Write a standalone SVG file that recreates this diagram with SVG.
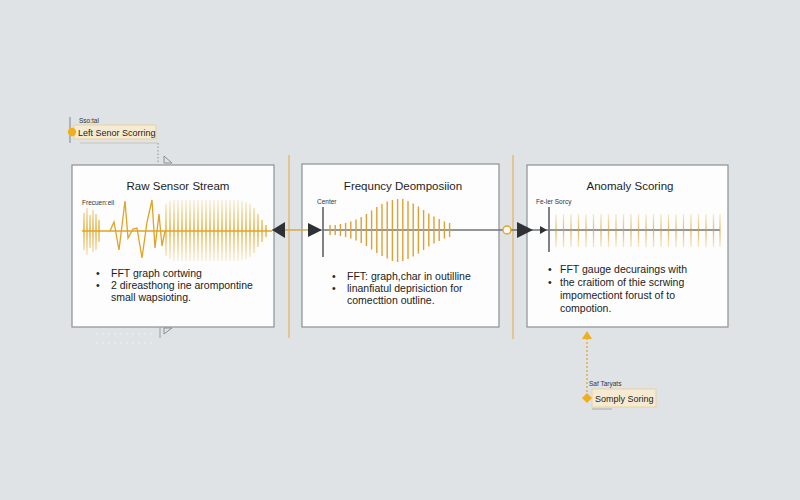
<svg xmlns="http://www.w3.org/2000/svg" width="800" height="500" viewBox="0 0 800 500">
<defs>
<linearGradient id="g1" gradientUnits="userSpaceOnUse" x1="0" y1="198" x2="0" y2="262">
<stop offset="0" stop-color="#e6a925" stop-opacity="0.15"/>
<stop offset="0.5" stop-color="#e2a21c" stop-opacity="1"/>
<stop offset="1" stop-color="#e6a925" stop-opacity="0.15"/>
</linearGradient>
<linearGradient id="g3" gradientUnits="userSpaceOnUse" x1="0" y1="212" x2="0" y2="250">
<stop offset="0" stop-color="#e8b040" stop-opacity="0.2"/>
<stop offset="0.5" stop-color="#d9a130" stop-opacity="0.75"/>
<stop offset="1" stop-color="#e8b040" stop-opacity="0.2"/>
</linearGradient>
<style>
.panel{fill:#fdfdfd;stroke:#8c9194;stroke-width:1.2}
.title{font-family:"Liberation Sans",Arial,sans-serif;font-size:11.5px;fill:#1e1e1e;text-anchor:middle}
.body{font-family:"Liberation Sans",Arial,sans-serif;font-size:10.5px;fill:#222}
.tiny{font-family:"Liberation Sans",Arial,sans-serif;font-size:6.5px;fill:#333}
.vline{stroke:#e2b769;stroke-width:1.3}
.axis{stroke:#6f7478;stroke-width:1.6}
.arrow{fill:#2e3235}
.callout{fill:#f6ebd2;stroke:#e6d3a3;stroke-width:1}
.ctext{font-family:"Liberation Sans",Arial,sans-serif;font-size:9px;fill:#222}
</style>
</defs>
<rect width="800" height="500" fill="#dfe3e5"/>

<!-- separators -->
<line class="vline" x1="289" y1="155" x2="289" y2="338"/>
<line class="vline" x1="513" y1="155" x2="513" y2="339"/>

<g id="panel-raw">
<rect class="panel" x="72" y="165" width="202" height="162"/>
<text class="title" x="178" y="190">Raw Sensor Stream</text>
<text class="tiny" x="82" y="205">Frecuen:eil</text>
<line x1="82" y1="231" x2="272" y2="231" stroke="#e0a326" stroke-width="1.4"/>
<path fill="none" stroke="url(#g1)" stroke-width="1.3" d="M84 213V250M87 208V255M90 215V248M93 210V252M96 214V250M99 220V242"/>
<polyline fill="none" stroke="#e0a326" stroke-width="1.3" points="110,231 114,222 119,250 125,201 128,238 133,229 137,228 142,258 147,222 152,200 155,248 159,214 162,246 165,231"/>
<path fill="none" stroke="url(#g1)" stroke-width="1.3" d="M166 204V256M170 201V259M174 200V261M178 200V261M182 200V261M186 200V261M190 200V261M194 200V261M198 200V261M202 200V261M206 200V261M210 200V261M214 200V261M218 200V261M222 200V261M226 200V261M230 200V261M234 200V261M238 200V261M242 201V260M246 202V259M250 204V257M254 208V253M258 214V247M262 220V242M266 225V237"/>
<text class="body" x="96" y="277">•</text>
<text class="body" x="111" y="277">FFT graph cortwing</text>
<text class="body" x="96" y="289">•</text>
<text class="body" x="111" y="289">2 direasthong ine arompontine</text>
<text class="body" x="111" y="301">small wapsioting.</text>
</g>

<g id="panel-freq">
<rect class="panel" x="302" y="164" width="197" height="163"/>
<text class="title" x="403" y="190">Frequncy Deomposiion</text>
<text class="tiny" x="317" y="204">Center</text>
<line x1="323" y1="207" x2="323" y2="257" stroke="#5e6366" stroke-width="1.6"/>
<line class="axis" x1="323" y1="230" x2="503" y2="230"/>
<path fill="none" stroke="#dda032" stroke-width="1.4" d="M330 225V235M335.2 225V235M340.4 224V236M345.6 223V237M350.8 221.5V238.5M356 219.5V240.5M361.2 217V243M366.4 214V246M371.6 210.5V249.5M376.8 207V253M382 204V256M387.2 201.5V258.5M392.4 200V261M397.6 199V262M402.8 199V261M408 201V259M413.2 203.5V256.5M418.4 206.5V253.5M423.6 210V250M428.8 213.5V246.5M434 216.5V243.5M439.2 219V241M444.4 221.5V238.5M449.6 223V237"/>
<text class="body" x="332" y="280">•</text>
<text class="body" x="347" y="280">FFT: graph,char in outilline</text>
<text class="body" x="332" y="292">•</text>
<text class="body" x="347" y="292">linanfiatul deprisiction for</text>
<text class="body" x="347" y="304">comecttion outline.</text>
</g>

<g id="panel-anomaly">
<rect class="panel" x="527" y="165" width="201" height="162"/>
<text class="title" x="630" y="190">Anomaly Scoring</text>
<text class="tiny" x="536" y="204">Fe-ler Sorcy</text>
<line x1="549" y1="207" x2="549" y2="252" stroke="#5e6366" stroke-width="1.6"/>
<line class="axis" x1="549" y1="230" x2="720" y2="230"/>
<path fill="none" stroke="url(#g3)" stroke-width="1.3" d="M556 214V247M563.5 214V247M571 214V247M578.5 214V247M586 214V247M593.5 214V247M601 214V247M608.5 214V247M616 214V247M623.5 214V247M631 214V247M638.5 214V247M646 214V247M653.5 214V247M661 214V247M668.5 214V247M676 214V247M683.5 214V247M691 214V247M698.5 214V247M706 214V247M713.5 214V247M720 214V247"/>
<text class="body" x="548" y="273">•</text>
<text class="body" x="560" y="273">FFT gauge decuraings with</text>
<text class="body" x="548" y="286">•</text>
<text class="body" x="560" y="286">the craitiom of thie scrwing</text>
<text class="body" x="560" y="299">impomectiont forust of to</text>
<text class="body" x="560" y="312">compotion.</text>
</g>

<g id="callout-left">
<line x1="70" y1="117" x2="70" y2="143" stroke="#8f9497" stroke-width="1.2"/>
<text class="tiny" x="79" y="123">Sso:tal</text>
<rect class="callout" x="74" y="125" width="82" height="14"/>
<text class="ctext" x="78" y="135.5">Left Senor Scorring</text>
<circle cx="72" cy="132" r="4.2" fill="#f0ae1e"/>
<line x1="80" y1="143" x2="157" y2="143" stroke="#c9c3b3" stroke-width="1"/>
</g>

<g id="callout-bottom">
<text class="tiny" x="589" y="386" font-size="5.5">Saf Taryats</text>
<rect class="callout" x="592" y="389" width="64" height="18"/>
<text class="ctext" x="595" y="401.5">Somply Soring</text>
<line x1="592" y1="409" x2="612" y2="409" stroke="#a9aaa8" stroke-width="1"/>
</g>

<g id="connectors">
<line x1="272" y1="230" x2="322" y2="230" stroke="#d9a84a" stroke-width="1.3"/>
<polygon class="arrow" points="272,230 285,222 285,238"/>
<polygon class="arrow" points="322,230 308,223 308,237"/>
<line class="axis" x1="503" y1="230" x2="549" y2="230"/>
<circle cx="507" cy="230" r="4" fill="#fffaf0" stroke="#e0a326" stroke-width="1.3"/>
<polygon class="arrow" points="533,230 517,222 517,238"/>
<polygon class="arrow" points="547,230 540,226 540,234"/>
<line x1="158" y1="143" x2="158" y2="164" stroke="#8a8f92" stroke-width="1" stroke-dasharray="1.5,2"/>
<polygon points="164,156 164,163 172,163" fill="none" stroke="#8a8f92" stroke-width="1"/>
<line x1="160" y1="327" x2="160" y2="338" stroke="#9a9ea1" stroke-width="1"/>
<polygon points="164,328 172,328 164,334" fill="none" stroke="#8a8f92" stroke-width="1"/>
<line x1="587" y1="338" x2="587" y2="398" stroke="#e2a21c" stroke-width="1.2" stroke-dasharray="2,2"/>
<polygon points="587,331 582,339 592,339" fill="#f0ae1e"/>
<polygon points="587,393 592,398 587,403 582,398" fill="#f0ae1e"/>
<g fill="#ffffff" opacity="0.6">
<circle cx="97" cy="334" r="0.8"/><circle cx="103" cy="334" r="0.8"/><circle cx="109" cy="334" r="0.8"/><circle cx="115" cy="334" r="0.8"/><circle cx="121" cy="334" r="0.8"/><circle cx="127" cy="334" r="0.8"/><circle cx="133" cy="334" r="0.8"/><circle cx="139" cy="334" r="0.8"/><circle cx="145" cy="334" r="0.8"/><circle cx="151" cy="334" r="0.8"/>
<circle cx="97" cy="343" r="0.8"/><circle cx="103" cy="343" r="0.8"/><circle cx="109" cy="343" r="0.8"/><circle cx="115" cy="343" r="0.8"/><circle cx="121" cy="343" r="0.8"/><circle cx="127" cy="343" r="0.8"/><circle cx="133" cy="343" r="0.8"/><circle cx="139" cy="343" r="0.8"/><circle cx="145" cy="343" r="0.8"/><circle cx="151" cy="343" r="0.8"/>
</g>
</g>
</svg>
